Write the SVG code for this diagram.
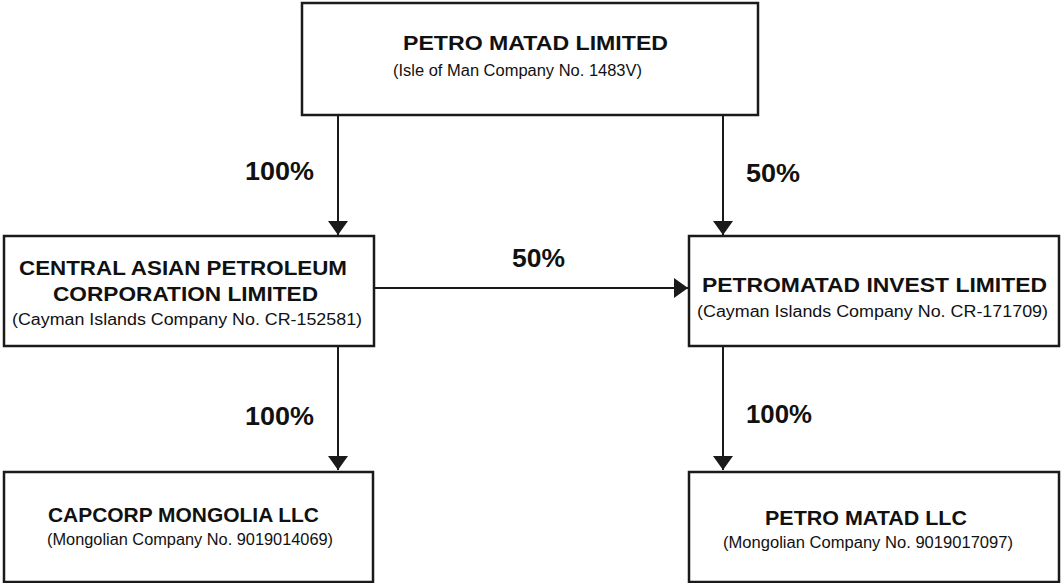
<svg xmlns="http://www.w3.org/2000/svg" width="1061" height="583" viewBox="0 0 1061 583">
<style>
.box{fill:#fff;stroke:#1a1a1a;stroke-width:2.5}
.t{font-family:"Liberation Sans",Arial,sans-serif;font-weight:bold;font-size:21px;fill:#111}
.s{font-family:"Liberation Sans",Arial,sans-serif;font-size:16px;fill:#111}
.p{font-family:"Liberation Sans",Arial,sans-serif;font-weight:bold;font-size:25px;fill:#111}
.c{stroke:#1a1a1a;stroke-width:2;fill:none}
</style>
<defs>
<marker id="ah" viewBox="0 0 14 20" refX="14" refY="10" markerWidth="14" markerHeight="20" markerUnits="userSpaceOnUse" orient="auto">
<path d="M0,0 L14,10 L0,20 Z" fill="#1a1a1a"/>
</marker>
</defs>
<g id="connectors">
<line class="c" x1="338" y1="116" x2="338" y2="235" marker-end="url(#ah)"/>
<line class="c" x1="723" y1="116" x2="723" y2="235" marker-end="url(#ah)"/>
<line class="c" x1="375" y1="288" x2="688" y2="288" marker-end="url(#ah)"/>
<line class="c" x1="338" y1="347" x2="338" y2="470" marker-end="url(#ah)"/>
<line class="c" x1="723" y1="347" x2="723" y2="470" marker-end="url(#ah)"/>
<text class="p" x="245" y="180" textLength="69" lengthAdjust="spacingAndGlyphs">100%</text>
<text class="p" x="746" y="182" textLength="54" lengthAdjust="spacingAndGlyphs">50%</text>
<text class="p" x="512" y="267" textLength="53" lengthAdjust="spacingAndGlyphs">50%</text>
<text class="p" x="245" y="425" textLength="69" lengthAdjust="spacingAndGlyphs">100%</text>
<text class="p" x="746" y="423" textLength="66" lengthAdjust="spacingAndGlyphs">100%</text>
</g>
<g id="petro-matad-limited">
<rect class="box" x="302" y="3" width="456" height="112"/>
<text class="t" x="403" y="50" textLength="265" lengthAdjust="spacingAndGlyphs">PETRO MATAD LIMITED</text>
<text class="s" x="393" y="76" textLength="249" lengthAdjust="spacingAndGlyphs">(Isle of Man Company No. 1483V)</text>
</g>
<g id="central-asian-petroleum">
<rect class="box" x="4" y="236" width="370" height="110"/>
<text class="t" x="19" y="275" textLength="328" lengthAdjust="spacingAndGlyphs">CENTRAL ASIAN PETROLEUM</text>
<text class="t" x="53" y="301" textLength="265" lengthAdjust="spacingAndGlyphs">CORPORATION LIMITED</text>
<text class="s" x="12" y="325" textLength="350" lengthAdjust="spacingAndGlyphs">(Cayman Islands Company No. CR-152581)</text>
</g>
<g id="petromatad-invest">
<rect class="box" x="689" y="236" width="370" height="110"/>
<text class="t" x="702" y="292" textLength="345" lengthAdjust="spacingAndGlyphs">PETROMATAD INVEST LIMITED</text>
<text class="s" x="697" y="317" textLength="351" lengthAdjust="spacingAndGlyphs">(Cayman Islands Company No. CR-171709)</text>
</g>
<g id="capcorp-mongolia">
<rect class="box" x="4" y="472" width="369" height="110"/>
<text class="t" x="48" y="522" textLength="271" lengthAdjust="spacingAndGlyphs">CAPCORP MONGOLIA LLC</text>
<text class="s" x="47" y="545" textLength="286" lengthAdjust="spacingAndGlyphs">(Mongolian Company No. 9019014069)</text>
</g>
<g id="petro-matad-llc">
<rect class="box" x="689" y="472" width="370" height="110"/>
<text class="t" x="765" y="525" textLength="202" lengthAdjust="spacingAndGlyphs">PETRO MATAD LLC</text>
<text class="s" x="723" y="548" textLength="290" lengthAdjust="spacingAndGlyphs">(Mongolian Company No. 9019017097)</text>
</g>
</svg>
